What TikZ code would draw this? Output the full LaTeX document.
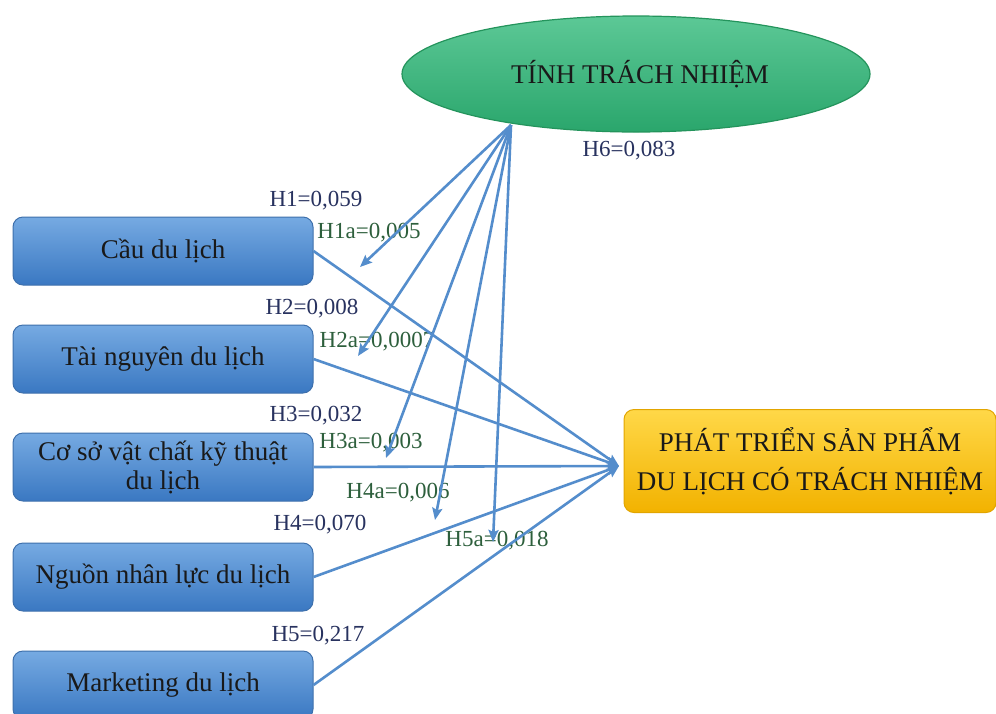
\documentclass[tikz,border=0pt]{standalone}
\usepackage{fontspec}
\setmainfont{Liberation Serif}
\usetikzlibrary{arrows.meta,shapes.geometric}
\definecolor{arrowblue}{RGB}{84,141,204}
\definecolor{boxtop}{RGB}{118,170,226}
\definecolor{boxbot}{RGB}{58,120,194}
\definecolor{boxedge}{RGB}{62,112,172}
\definecolor{elltop}{RGB}{92,200,150}
\definecolor{ellbot}{RGB}{42,166,108}
\definecolor{elledge}{RGB}{36,148,92}
\definecolor{ytop}{RGB}{255,216,72}
\definecolor{ybot}{RGB}{242,178,0}
\definecolor{yedge}{RGB}{226,165,0}
\definecolor{hnavy}{RGB}{40,50,95}
\definecolor{hgreen}{RGB}{45,95,60}
\begin{document}
\begin{tikzpicture}[x=1pt,y=-1pt,
  factor/.style={draw=boxedge, line width=1pt, rounded corners=10pt, top color=boxtop, bottom color=boxbot, minimum width=300pt, minimum height=68pt, align=center, inner sep=0pt, font=\fontsize{27}{29}\selectfont, text=black!90},
  link/.style={draw=arrowblue, line width=2.6pt, -{Stealth[length=12pt,width=10pt,inset=2pt]}},
  hlab/.style={font=\fontsize{23}{25}\selectfont, text=hnavy, inner sep=0pt},
  halab/.style={font=\fontsize{23}{25}\selectfont, text=hgreen, inner sep=0pt},
]
\fill[white] (0,0) rectangle (996,713);
\useasboundingbox (0,0) rectangle (996,713);

% factor boxes
\node[factor] (b1) at (163,251) {Cầu du lịch};
\node[factor] (b2) at (163,359) {Tài nguyên du lịch};
\node[factor] (b3) at (163,467) {Cơ sở vật chất kỹ thuật\\du lịch};
\node[factor] (b4) at (163,577) {Nguồn nhân lực du lịch};
\node[factor] (b5) at (163,685) {Marketing du lịch};

% target box
\node[draw=yedge, line width=1pt, rounded corners=10pt, top color=ytop, bottom color=ybot,
      minimum width=372pt, minimum height=103pt, align=center, inner sep=0pt,
      font=\fontsize{27}{39}\selectfont, text=black!90] (t) at (810,461)
      {PHÁT TRIỂN SẢN PHẨM\\DU LỊCH CÓ TRÁCH NHIỆM};

% labels
\node[hlab] (l1) at (316,201) {H1=0,059};
\node[halab] (l1a) at (369,233) {H1a=0,005};
\node[hlab] (l2) at (312,309) {H2=0,008};
\node[halab] (l2a) at (377,342) {H2a=0,0007};
\node[hlab] (l3) at (316,416) {H3=0,032};
\node[halab] (l3a) at (371,443) {H3a=0,003};
\node[halab] (l4a) at (398,493) {H4a=0,006};
\node[hlab] (l4) at (320,525) {H4=0,070};
\node[halab] (l5a) at (497,541) {H5a=0,018};
\node[hlab] (l5) at (318,636) {H5=0,217};
\node[hlab] (l6) at (629,151) {H6=0,083};

% coordinates
\coordinate (src) at (511,125);
\coordinate (tgt) at (619,466);
\coordinate (a1) at (360,267);
\coordinate (a2) at (358,356);
\coordinate (a3) at (386,458);
\coordinate (a4) at (435,520);
\coordinate (a5) at (493,542);

% connectors
\draw[link] (b1.east) -- (tgt);
\draw[link] (b2.east) -- (tgt);
\draw[link] (b3.east) -- (tgt);
\draw[link] (b4.east) -- (tgt);
\draw[link] (b5.east) -- (tgt);
\draw[link] (src) -- (a1);
\draw[link] (src) -- (a2);
\draw[link] (src) -- (a3);
\draw[link] (src) -- (a4);
\draw[link] (src) -- (a5);

% ellipse
\node[ellipse, draw=elledge, line width=1.2pt, top color=elltop, bottom color=ellbot,
      minimum width=468pt, minimum height=116pt, inner sep=0pt] (e) at (636,74) {};
\node[font=\fontsize{27}{29}\selectfont, text=black!90] (et) at (640,74) {TÍNH TRÁCH NHIỆM};
\end{tikzpicture}
\end{document}
